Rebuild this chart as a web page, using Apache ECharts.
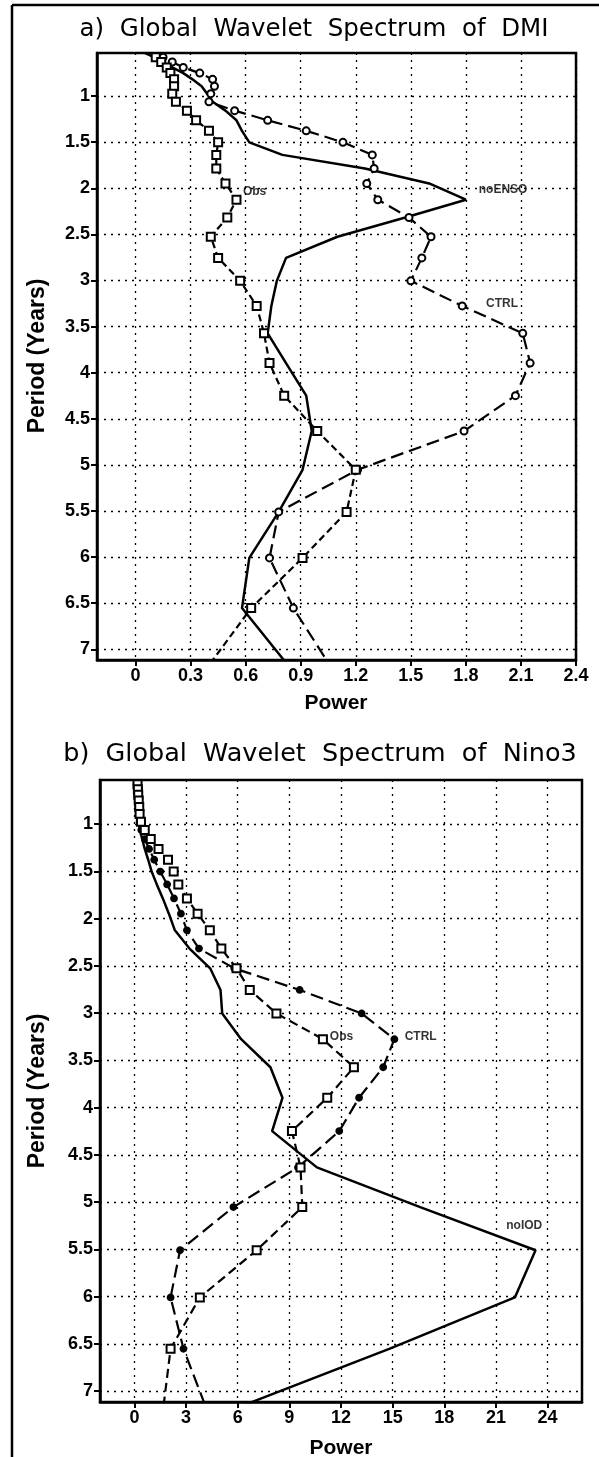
<!DOCTYPE html>
<html>
<head>
<meta charset="utf-8">
<title>Global Wavelet Spectrum of DMI / Nino3</title>
<script src="https://cdn.jsdelivr.net/npm/echarts@6/dist/echarts.min.js"></script>
<style>
  html, body { margin: 0; padding: 0; background: #fff; }
  #chart { width: 599px; height: 1457px; }
</style>
</head>
<body>
<div id="chart"></div>
<script>
// periods (years) of the wavelet scales, same for both panels
const periods = [0.531, 0.579, 0.631, 0.689, 0.751, 0.819, 0.893, 0.974, 1.062, 1.158,
  1.263, 1.377, 1.502, 1.638, 1.786, 1.948, 2.124, 2.317, 2.526, 2.755,
  3.004, 3.276, 3.573, 3.896, 4.249, 4.633, 5.053, 5.510, 6.009, 6.553, 7.146];

// a) DMI
const dmiObs = [0.09, 0.11, 0.14, 0.17, 0.19, 0.21, 0.21, 0.20, 0.22, 0.28,
  0.33, 0.40, 0.45, 0.44, 0.44, 0.49, 0.55, 0.50, 0.41, 0.45,
  0.57, 0.66, 0.70, 0.73, 0.81, 0.99, 1.20, 1.15, 0.91, 0.63, 0.41];
const dmiCtrl = [0.10, 0.15, 0.20, 0.26, 0.35, 0.42, 0.43, 0.41, 0.40, 0.54,
  0.72, 0.93, 1.13, 1.29, 1.30, 1.26, 1.32, 1.49, 1.61, 1.56,
  1.50, 1.78, 2.11, 2.15, 2.07, 1.79, 1.21, 0.78, 0.73, 0.86, 1.05];
const dmiNoEnso = [0.05, 0.10, 0.14, 0.20, 0.26, 0.31, 0.36, 0.39, 0.42, 0.49,
  0.55, 0.58, 0.62, 0.80, 1.25, 1.60, 1.80, 1.47, 1.10, 0.82,
  0.77, 0.74, 0.72, 0.82, 0.93, 0.96, 0.91, 0.78, 0.62, 0.58, 0.82];

// b) Nino3
const ninoObs = [0.15, 0.18, 0.20, 0.22, 0.25, 0.28, 0.30, 0.38, 0.60, 0.95,
  1.40, 1.95, 2.28, 2.55, 3.05, 3.67, 4.38, 5.05, 5.93, 6.70,
  8.25, 10.95, 12.75, 11.20, 9.15, 9.65, 9.75, 7.10, 3.80, 2.10, 1.70];
const ninoCtrl = [0.10, 0.12, 0.15, 0.17, 0.20, 0.22, 0.25, 0.30, 0.40, 0.60,
  0.85, 1.15, 1.50, 1.90, 2.30, 2.70, 3.05, 3.75, 5.80, 9.60,
  13.20, 15.10, 14.45, 13.05, 11.90, 9.50, 5.75, 2.65, 2.10, 2.85, 4.10];
const ninoNoIod = [0.00, 0.03, 0.06, 0.09, 0.12, 0.15, 0.20, 0.25, 0.32, 0.45,
  0.60, 0.80, 1.00, 1.30, 1.65, 2.00, 2.35, 3.20, 4.40, 5.00,
  5.10, 6.20, 7.90, 8.60, 8.00, 10.60, 16.60, 23.30, 22.10, 14.80, 6.40];

// tick labels
const dmiPowerTicks = [0, 0.3, 0.6, 0.9, 1.2, 1.5, 1.8, 2.1, 2.4];
const ninoPowerTicks = [0, 3, 6, 9, 12, 15, 18, 21, 24];
const periodTicks = [1, 1.5, 2, 2.5, 3, 3.5, 4, 4.5, 5, 5.5, 6, 6.5, 7];

// curve labels [text, power, period]
const dmiNotes = [['Obs', 0.585, 2.04], ['noENSO', 1.87, 2.02], ['CTRL', 1.91, 3.25]];
const ninoNotes = [['Obs', 11.35, 3.25], ['CTRL', 15.7, 3.25], ['noIOD', 21.6, 5.25]];

const labelFont = '"Liberation Sans Narrow", "Liberation Sans", Arial, sans-serif';

function pairs(vals) {
  return vals.map((v, i) => [v, periods[i]]);
}

function xAxisFor(idx, min, max, ticks) {
  return {
    type: 'value', gridIndex: idx, min: min, max: max,
    axisLine: { show: true, onZero: false, lineStyle: { color: '#000', width: 2.5 } },
    axisTick: { show: true, customValues: ticks, length: 6, lineStyle: { color: '#000', width: 2 } },
    axisLabel: { customValues: ticks, color: '#000', fontSize: 18, fontWeight: 'bold',
      fontFamily: labelFont, margin: 7 },
    splitLine: { show: true, lineStyle: { color: '#000', width: 1.3, type: [2, 5] } }
  };
}

function yAxisFor(idx) {
  return {
    type: 'value', gridIndex: idx, inverse: true, min: 0.533, max: 7.116,
    axisLine: { show: true, onZero: false, lineStyle: { color: '#000', width: 2.5 } },
    axisTick: { show: true, customValues: periodTicks, length: 6, lineStyle: { color: '#000', width: 2 } },
    axisLabel: { customValues: periodTicks, color: '#000', fontSize: 18, fontWeight: 'bold',
      fontFamily: labelFont, margin: 7 },
    splitLine: { show: true, lineStyle: { color: '#000', width: 1.3, type: [2, 5] } }
  };
}

function solid(name, idx, vals) {
  return {
    name: name, type: 'line', xAxisIndex: idx, yAxisIndex: idx, data: pairs(vals),
    showSymbol: false, lineStyle: { color: '#000', width: 2.5 }, z: 3
  };
}

function marked(name, idx, vals, dash, symbol, size) {
  return {
    name: name, type: 'line', xAxisIndex: idx, yAxisIndex: idx, data: pairs(vals),
    symbol: symbol, symbolSize: size, showAllSymbol: true,
    lineStyle: { color: '#000', width: 2.2, type: dash },
    itemStyle: { color: '#000', borderColor: '#000', borderWidth: 1.8 }, z: 4
  };
}

function notes(idx, list) {
  return {
    type: 'scatter', xAxisIndex: idx, yAxisIndex: idx, symbolSize: 0, z: 5,
    data: list.map(n => ({ value: [n[1], n[2]], name: n[0] })),
    label: { show: true, position: 'right', distance: 0, formatter: '{b}',
      color: '#000', fontSize: 12, fontWeight: 'bold', fontFamily: labelFont }
  };
}

const chart = echarts.init(document.getElementById('chart'), null, { renderer: 'canvas' });

chart.setOption({
  animation: false,
  backgroundColor: '#fff',
  grid: [
    { left: 97, top: 53, width: 479, height: 607, show: true, borderColor: '#000', borderWidth: 2.5 },
    { left: 100, top: 780, width: 482, height: 622, show: true, borderColor: '#000', borderWidth: 2.5 }
  ],
  xAxis: [
    xAxisFor(0, -0.21, 2.4, dmiPowerTicks),
    xAxisFor(1, -2, 26, ninoPowerTicks)
  ],
  yAxis: [yAxisFor(0), yAxisFor(1)],
  series: [
    solid('noENSO', 0, dmiNoEnso),
    marked('CTRL', 0, dmiCtrl, [13, 6], 'emptyCircle', 7),
    marked('Obs', 0, dmiObs, [7, 4], 'emptyRect', 8),
    notes(0, dmiNotes),
    solid('noIOD', 1, ninoNoIod),
    marked('CTRL', 1, ninoCtrl, [13, 6], 'circle', 6),
    marked('Obs', 1, ninoObs, [9, 5], 'emptyRect', 8),
    notes(1, ninoNotes)
  ],
  graphic: [
    { type: 'line', shape: { x1: 12, y1: 5, x2: 599, y2: 5 }, style: { stroke: '#000', lineWidth: 2.5 } },
    { type: 'line', shape: { x1: 12, y1: 5, x2: 12, y2: 1457 }, style: { stroke: '#000', lineWidth: 2.5 } },
    { type: 'text', x: 314, y: 30, style: { text: 'a)  Global  Wavelet  Spectrum  of  DMI',
      font: '24.5px "DejaVu Sans", sans-serif', fill: '#000', align: 'center', verticalAlign: 'middle' } },
    { type: 'text', x: 320, y: 754, style: { text: 'b)  Global  Wavelet  Spectrum  of  Nino3',
      font: '25.5px "DejaVu Sans", sans-serif', fill: '#000', align: 'center', verticalAlign: 'middle' } },
    { type: 'text', x: 336, y: 703, style: { text: 'Power',
      font: 'bold 21px ' + labelFont, fill: '#000', align: 'center', verticalAlign: 'middle' } },
    { type: 'text', x: 341, y: 1448, style: { text: 'Power',
      font: 'bold 21px ' + labelFont, fill: '#000', align: 'center', verticalAlign: 'middle' } },
    { type: 'text', x: 38, y: 356, rotation: Math.PI / 2, style: { text: 'Period (Years)',
      font: 'bold 23px ' + labelFont, fill: '#000', align: 'center', verticalAlign: 'middle' } },
    { type: 'text', x: 38, y: 1091, rotation: Math.PI / 2, style: { text: 'Period (Years)',
      font: 'bold 23px ' + labelFont, fill: '#000', align: 'center', verticalAlign: 'middle' } }
  ]
});
</script>
</body>
</html>
